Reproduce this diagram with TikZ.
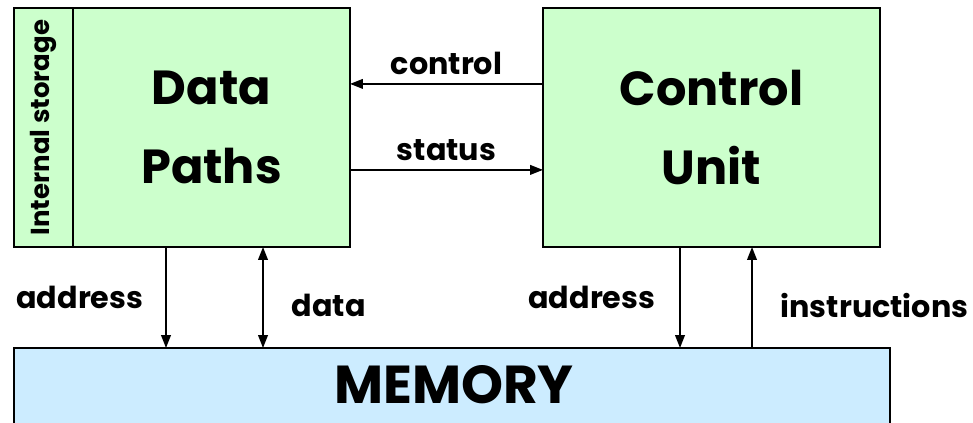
\documentclass[tikz,border=0pt]{standalone}
\usepackage{fontspec}
\setmainfont{Poppins}
\usetikzlibrary{arrows.meta}
\definecolor{pathgreen}{HTML}{CCFFCC}
\definecolor{memblue}{HTML}{CCECFF}

\begin{document}
\begin{tikzpicture}[every node/.style={outer sep=0pt, font=\bfseries},
  box/.style={draw, line width=1.8pt, fill=pathgreen, inner sep=0pt},
  link/.style={line width=1.1pt, -{Triangle[length=3.2mm,width=2.4mm]}},
  big/.style={font=\fontsize{34}{56}\selectfont\bfseries, align=center},
  lbl/.style={font=\fontsize{21.5}{24}\selectfont\bfseries}]
\useasboundingbox (0,0) rectangle (24.325,10.55);
\node[box, minimum width=1.475cm, minimum height=5.975cm] (store) at (1.0875,7.3625) {};
\node[rotate=90, font=\fontsize{18.5}{20}\selectfont\bfseries] (storetxt) at (store.center) {Internal storage};
\node[box, minimum width=6.925cm, minimum height=5.975cm, big] (dp) at (5.2875,7.3625) {Data\\Paths};
\node[box, minimum width=8.425cm, minimum height=5.975cm, big] (cu) at (17.7875,7.3625) {Control\\Unit};
\node[box, fill=memblue, minimum width=21.9cm, minimum height=2.5cm] (mem) at (11.3,0.6) {};
\node[font=\fontsize{38}{44}\selectfont\bfseries] (memtxt) at (11.35,0.925) {MEMORY};

\coordinate (a1) at (4.15,0);
\coordinate (d1) at (6.575,0);
\coordinate (a2) at (17.0,0);
\coordinate (i2) at (18.8,0);

\draw[link] ([yshift=1.09cm]cu.west) -- node[above=1mm, lbl] (ctl) {control} ([yshift=1.09cm]dp.east);
\draw[link] ([yshift=-1.06cm]dp.east) -- node[above=1mm, lbl] (sts) {status} ([yshift=-1.06cm]cu.west);
\draw[link] (a1 |- dp.south) -- node[left=4.5mm, lbl] (adr1) {address} (a1 |- mem.north);
\draw[link, {Triangle[length=3.2mm,width=2.4mm]}-{Triangle[length=3.2mm,width=2.4mm]}] (d1 |- dp.south) -- node[right=6mm, pos=0.58, lbl] (dat) {data} (d1 |- mem.north);
\draw[link] (a2 |- cu.south) -- node[left=5mm, lbl] (adr2) {address} (a2 |- mem.north);
\draw[link] (i2 |- mem.north) -- node[right=6mm, pos=0.42, lbl] (ins) {instructions} (i2 |- cu.south);
\end{tikzpicture}
\end{document}
